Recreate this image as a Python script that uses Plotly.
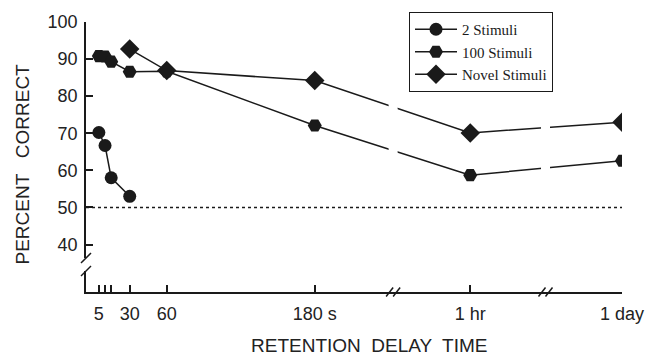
import plotly.graph_objects as go

# ---- data ----
# x positions on the (piecewise) delay axis; 1 hr and 1 day sit after axis breaks
tick_vals = [5, 10, 15, 30, 60, 180, 306, 429]
tick_text = ["5", "", "", "30", "60", "180 s", "1 hr", "1 day"]

two_x = [5, 10, 15, 30]
two_y = [70.2, 66.7, 58.0, 53.0]

hundred_x = [5, 10, 15, 30, 60, 180, 306, 429]
hundred_y = [90.8, 90.7, 89.3, 86.6, 86.7, 72.1, 58.7, 62.6]

novel_x = [30, 60, 180, 306, 429]
novel_y = [92.7, 86.9, 84.2, 70.1, 73.0]

chance_level = 50
x_breaks = [243.5, 367]
y_ticks = [40, 50, 60, 70, 80, 90, 100]

# ---- layout geometry (page has an 8px body margin) ----
OFF = 8
W, H = 660 - OFF, 357 - OFF
L, R, T, B = 86 - OFF, 38, 22 - OFF, 65
XR = [-5.43, 429]
YR = [27.2, 100]
pw, ph = W - L - R, H - T - B
xu = (XR[1] - XR[0]) / pw   # data units per px
yu = (YR[1] - YR[0]) / ph


def px_x(page_x):  # page pixel -> paper x
    return (page_x - OFF - L) / pw


def px_y(page_y):  # page pixel -> paper y
    return (H - B - (page_y - OFF)) / ph


ink = "#1a1a1a"
fig = go.Figure()
common = dict(mode="lines+markers", line=dict(color=ink, width=1.5))
fig.add_trace(go.Scatter(x=two_x, y=two_y, name="2 Stimuli",
                         marker=dict(symbol="circle", size=13, color=ink), **common))
fig.add_trace(go.Scatter(x=hundred_x, y=hundred_y, name="100 Stimuli",
                         marker=dict(symbol="hexagon2", size=14, color=ink), **common))
fig.add_trace(go.Scatter(x=novel_x, y=novel_y, name="Novel Stimuli",
                         marker=dict(symbol="diamond", size=15, color=ink), **common))

shapes = []
# gaps in the data lines at the axis breaks
for b in x_breaks:
    shapes.append(dict(type="rect", xref="x", yref="y", x0=b - 4.5 * xu, x1=b + 4.5 * xu,
                       y0=52, y1=89, fillcolor="white", line=dict(width=0), layer="above"))
# chance line
shapes.append(dict(type="line", xref="paper", yref="y", x0=0, x1=1, y0=chance_level, y1=chance_level,
                   line=dict(color=ink, width=1.5, dash="dot"), layer="above"))
# x-axis break slashes
for b in x_breaks:
    for off in (-3.5, 3.5):
        c = b + off * xu
        shapes.append(dict(type="line", xref="x", yref="paper",
                           x0=c - 3.5 * xu, x1=c + 3.5 * xu, y0=-4.5 / ph, y1=4.5 / ph,
                           line=dict(color=ink, width=1.5), layer="above"))
# y-axis break: gap + slashes
gap_lo, gap_hi = 100 - (271 - 22) * yu, 100 - (258 - 22) * yu
shapes.append(dict(type="rect", xref="paper", yref="y", x0=-3 / pw, x1=3 / pw,
                   y0=gap_lo, y1=gap_hi, fillcolor="white", line=dict(width=0), layer="above"))
for yc in (gap_hi, gap_lo):
    shapes.append(dict(type="line", xref="paper", yref="y",
                       x0=-5 / pw, x1=5 / pw, y0=yc - 5 * yu, y1=yc + 5 * yu,
                       line=dict(color=ink, width=1.5), layer="above"))

axis_font = dict(family="Liberation Sans, Arial, sans-serif", size=18, color="#222")
title_font = dict(family="Liberation Sans, Arial, sans-serif", size=19, color="#222")
fig.update_layout(
    width=W, height=H, margin=dict(l=L, r=R, t=T, b=B, autoexpand=False),
    paper_bgcolor="white", plot_bgcolor="white",
    showlegend=True,
    legend=dict(x=px_x(409), y=px_y(12), xanchor="left", yanchor="top",
                bordercolor=ink, borderwidth=1, bgcolor="white",
                font=dict(family="Liberation Serif, Times New Roman, serif", size=15, color=ink),
                tracegroupgap=0, itemwidth=42),
    shapes=shapes,
    xaxis=dict(range=XR, tickvals=tick_vals, ticktext=tick_text, ticks="inside", ticklen=7,
               tickwidth=1.5, tickcolor=ink, showline=True, linecolor=ink, linewidth=1.5,
               showgrid=False, zeroline=False, tickfont=axis_font, ticklabelstandoff=5,
               automargin=False),
    yaxis=dict(range=YR, tickvals=y_ticks, ticks="inside", ticklen=7, tickwidth=1.5,
               tickcolor=ink, showline=True, linecolor=ink, linewidth=1.5,
               showgrid=False, zeroline=False, tickfont=axis_font, ticklabelstandoff=3,
               automargin=False),
    annotations=[
        dict(text="RETENTION  DELAY  TIME", xref="paper", yref="paper",
             x=px_x(369), y=px_y(345), xanchor="center", yanchor="middle", showarrow=False,
             font=title_font),
        dict(text="PERCENT   CORRECT", xref="paper", yref="paper", textangle=-90,
             x=px_x(21.5), y=px_y(164), xanchor="center", yanchor="middle", showarrow=False,
             font=title_font),
    ],
)
fig.write_html("out.html")
